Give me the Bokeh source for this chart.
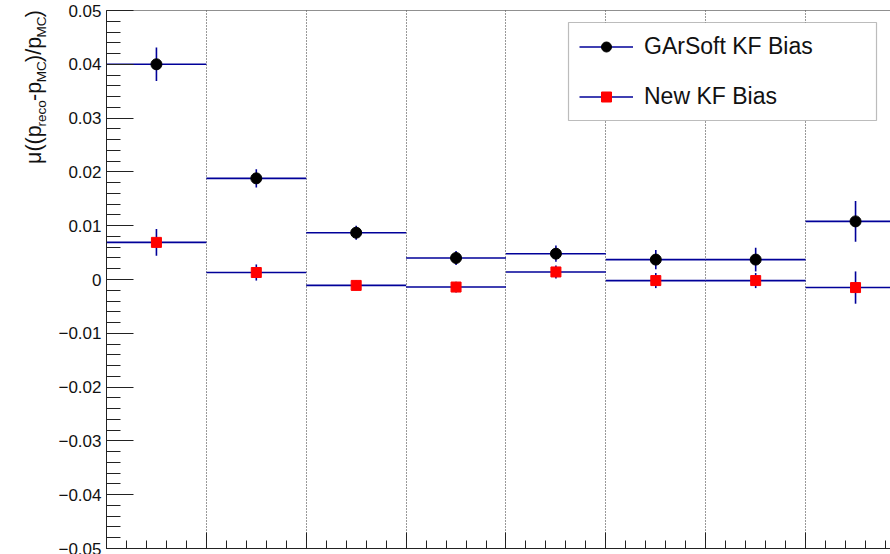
import numpy as np
from bokeh.plotting import figure
from bokeh.layouts import row
from bokeh.models import (Range1d, FixedTicker, CustomJSTickFormatter, Span, Label,
                          BoxAnnotation, Legend, LegendItem, ColumnDataSource)
from bokeh.core.properties import value
from bokeh.embed import file_html
from bokeh.resources import INLINE

# Momentum bins (bin index edges) and fitted mean bias per bin
bin_edges = [0, 1, 2, 3, 4, 5, 6, 7, 8]
garsoft_bias = [0.0400, 0.0188, 0.0087, 0.0040, 0.0048, 0.0037, 0.0037, 0.0108]
garsoft_err = [0.0031, 0.0017, 0.0013, 0.0013, 0.0015, 0.0018, 0.0022, 0.0038]
newkf_bias = [0.0069, 0.0013, -0.0011, -0.0014, 0.0014, -0.0002, -0.0002, -0.0015]
newkf_err = [0.0025, 0.0015, 0.0009, 0.0010, 0.0012, 0.0014, 0.0014, 0.0030]
series_labels = ["GArSoft KF Bias", "New KF Bias"]
y_ticks = [-0.05, -0.04, -0.03, -0.02, -0.01, 0.0, 0.01, 0.02, 0.03, 0.04, 0.05]

FONT = "Liberation Sans"
HIST_BLUE = "#000099"
INK = "#111111"

TITLE_W = 55          # strip holding the rotated y title
PLOT_W, PLOT_H = 890 - TITLE_W, 554
FRAME_LEFT = 105      # frame left edge in page pixels
FRAME_TOP, FRAME_BOTTOM = 10, 548

lo = bin_edges[:-1]
hi = bin_edges[1:]
centers = [(a + b) / 2 for a, b in zip(lo, hi)]


def hist_source(vals, errs):
    return ColumnDataSource(dict(
        lo=lo, hi=hi, xc=centers, val=vals,
        low=[v - e for v, e in zip(vals, errs)],
        high=[v + e for v, e in zip(vals, errs)],
    ))


p = figure(width=PLOT_W, height=PLOT_H, output_backend="svg", toolbar_location=None,
           x_range=Range1d(0, 7.85), y_range=Range1d(-0.05, 0.05),
           min_border_left=FRAME_LEFT - TITLE_W, min_border_right=0,
           min_border_top=FRAME_TOP, min_border_bottom=PLOT_H - FRAME_BOTTOM)
p.outline_line_color = None
p.background_fill_color = "white"
p.border_fill_color = "white"

# dotted grid at the bin boundaries only
p.ygrid.visible = False
p.xgrid.ticker = FixedTicker(ticks=bin_edges[1:-1])
p.xgrid.grid_line_color = "#333333"
p.xgrid.grid_line_dash = "1 2"
p.xgrid.grid_line_width = 1

# y axis: ROOT-like ticks pointing into the frame
p.yaxis.ticker = FixedTicker(ticks=y_ticks,
                             minor_ticks=list(np.round(np.arange(-0.05, 0.0501, 0.002), 4)))
p.yaxis.formatter = CustomJSTickFormatter(code="""
    if (Math.abs(tick) < 1e-9) { return "0"; }
    return (tick < 0 ? "\u2212" : "") + Math.abs(tick).toFixed(2);
""")
p.yaxis.major_tick_in = 27
p.yaxis.major_tick_out = 0
p.yaxis.minor_tick_in = 14
p.yaxis.minor_tick_out = 0
p.yaxis.axis_line_color = "#222222"
p.yaxis.major_tick_line_color = "#222222"
p.yaxis.minor_tick_line_color = "#222222"
p.yaxis.major_label_text_font = FONT
p.yaxis.major_label_text_font_size = "17px"
p.yaxis.major_label_text_color = INK
p.yaxis.major_label_standoff = 5

# x axis: ticks only, no labels
p.xaxis.ticker = FixedTicker(ticks=bin_edges,
                             minor_ticks=list(np.round(np.arange(0, 8.01, 0.2), 3)))
p.xaxis.formatter = CustomJSTickFormatter(code="return '';")
p.xaxis.major_tick_in = 16
p.xaxis.major_tick_out = 0
p.xaxis.minor_tick_in = 8
p.xaxis.minor_tick_out = 0
p.xaxis.axis_line_color = "#222222"
p.xaxis.major_tick_line_color = "#222222"
p.xaxis.minor_tick_line_color = "#222222"
p.xaxis.major_label_standoff = 0

# top frame edge
p.add_layout(Span(location=0.05, dimension="width", line_color="#222222", line_width=1))

# histograms: horizontal bin line, vertical error bar, marker
gs_src = hist_source(garsoft_bias, garsoft_err)
nk_src = hist_source(newkf_bias, newkf_err)

gs_h = p.segment(x0="lo", x1="hi", y0="val", y1="val", source=gs_src,
                 line_color=HIST_BLUE, line_width=1.6)
p.segment(x0="xc", x1="xc", y0="low", y1="high", source=gs_src,
          line_color=HIST_BLUE, line_width=1.6)
gs_m = p.scatter(x="xc", y="val", source=gs_src, marker="circle", size=11,
                 fill_color="black", line_color="black")

nk_h = p.segment(x0="lo", x1="hi", y0="val", y1="val", source=nk_src,
                 line_color=HIST_BLUE, line_width=1.6)
p.segment(x0="xc", x1="xc", y0="low", y1="high", source=nk_src,
          line_color=HIST_BLUE, line_width=1.6)
nk_m = p.scatter(x="xc", y="val", source=nk_src, marker="square", size=10,
                 fill_color="#ff0000", line_color="#ff0000")

# legend box (screen coordinates relative to the frame)
p.add_layout(BoxAnnotation(left=462, right=770, bottom=428, top=526,
                           left_units="screen", right_units="screen",
                           bottom_units="screen", top_units="screen",
                           fill_color="white", fill_alpha=1.0,
                           line_color="#222222", line_width=1.2))

legend = Legend(items=[LegendItem(label=value(series_labels[0]), renderers=[gs_h, gs_m]),
                       LegendItem(label=value(series_labels[1]), renderers=[nk_h, nk_m])],
                location=(473, 438), padding=0, spacing=23, margin=0,
                glyph_width=54, glyph_height=25, label_height=25, label_standoff=11,
                label_text_font=FONT, label_text_font_size="23px",
                label_text_color=INK,
                border_line_color=None, background_fill_alpha=0)
p.add_layout(legend)

# narrow strip carrying the rotated y-axis title with subscripts
t = figure(width=TITLE_W, height=PLOT_H, output_backend="svg", toolbar_location=None,
           x_range=Range1d(0, TITLE_W), y_range=Range1d(0, PLOT_H),
           x_axis_location=None, y_axis_location=None,
           min_border=0, min_border_left=0, min_border_right=0,
           min_border_top=0, min_border_bottom=0)
t.outline_line_color = None
t.grid.visible = False
t.background_fill_color = "white"
t.border_fill_color = "white"

ADV = {"μ": 0.576, "(": 0.333, ")": 0.333, "p": 0.556, "r": 0.333, "e": 0.556,
       "c": 0.5, "o": 0.556, "-": 0.333, "M": 0.833, "C": 0.722, "/": 0.278}
title_parts = [("μ((p", False), ("reco", True), ("-p", False), ("MC", True),
               (")/p", False), ("MC", True), (")", False)]
MAIN_FS, SUB_FS = 21.5, 13.5
base_x_main, base_x_sub = 33.0, 41.0
y_pos = 158.0
for txt, is_sub in title_parts:
    fs = SUB_FS if is_sub else MAIN_FS
    bx = base_x_sub if is_sub else base_x_main
    t.add_layout(Label(x=bx, y=PLOT_H - y_pos, x_units="data", y_units="data",
                       text=txt, angle=np.pi / 2,
                       text_font=FONT, text_font_size=f"{fs}px", text_color=INK,
                       text_align="left", text_baseline="alphabetic"))
    y_pos -= sum(ADV[ch] for ch in txt) * fs

layout = row(t, p, spacing=0)
open("out.html", "w").write(file_html(layout, INLINE))
